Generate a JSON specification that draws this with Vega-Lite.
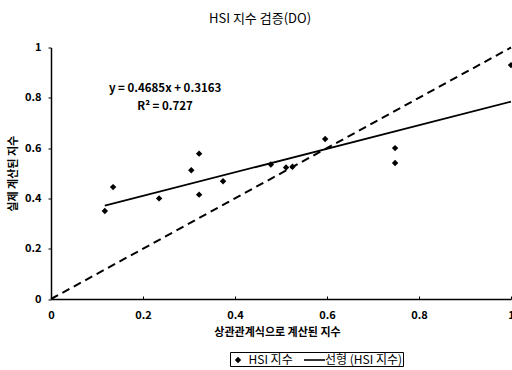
{
  "$schema": "https://vega.github.io/schema/vega-lite/v6.json",
  "autosize": {"type": "none"},
  "width": 460,
  "height": 251.5,
  "padding": {"left": 51, "top": 47.5, "right": 1, "bottom": 71},
  "background": "white",
  "config": {"view": {"stroke": null}, "font": "Noto Sans CJK KR"},
  "title": {"text": "HSI 지수 검증(DO)", "fontSize": 13, "fontWeight": "normal", "anchor": "middle", "dx": -21, "offset": 16, "color": "black", "font": "Noto Sans CJK KR"},
  "datasets": {
    "points": [
      {"x": 0.117, "y": 0.35, "series": "HSI 지수"},
      {"x": 0.135, "y": 0.445, "series": "HSI 지수"},
      {"x": 0.235, "y": 0.40, "series": "HSI 지수"},
      {"x": 0.305, "y": 0.512, "series": "HSI 지수"},
      {"x": 0.322, "y": 0.578, "series": "HSI 지수"},
      {"x": 0.322, "y": 0.415, "series": "HSI 지수"},
      {"x": 0.374, "y": 0.468, "series": "HSI 지수"},
      {"x": 0.478, "y": 0.535, "series": "HSI 지수"},
      {"x": 0.511, "y": 0.523, "series": "HSI 지수"},
      {"x": 0.525, "y": 0.526, "series": "HSI 지수"},
      {"x": 0.596, "y": 0.636, "series": "HSI 지수"},
      {"x": 0.748, "y": 0.60, "series": "HSI 지수"},
      {"x": 0.748, "y": 0.541, "series": "HSI 지수"},
      {"x": 1.0, "y": 0.93, "series": "HSI 지수"}
    ],
    "fit": [
      {"x": 0.117, "y": 0.371},
      {"x": 1.0, "y": 0.785}
    ],
    "diag": [
      {"x": 0, "y": 0},
      {"x": 1, "y": 1}
    ],
    "notes": [
      {"x": 0.248, "y": 0.835, "label": "y = 0.4685x + 0.3163"},
      {"x": 0.248, "y": 0.765, "label": "R² = 0.727"}
    ]
  },
  "layer": [
    {
      "data": {"name": "diag"},
      "mark": {"type": "line", "color": "black", "strokeWidth": 2, "strokeDash": [8, 5]},
      "encoding": {
        "x": {"field": "x", "type": "quantitative", "scale": {"domain": [0, 1], "nice": false},
          "axis": {"title": "상관관계식으로 계산된 지수", "values": [0, 0.2, 0.4, 0.6, 0.8, 1], "format": "~g", "grid": false,
            "domainColor": "black", "domainWidth": 1.5, "tickColor": "black", "tickSize": -3, "labelPadding": 13,
            "labelFont": "Noto Sans CJK KR", "labelFontWeight": "bold", "labelFontSize": 11, "labelColor": "black",
            "labelBound": false, "labelFlush": false, "labelOverlap": false,
            "titleFont": "Noto Sans CJK KR", "titleFontWeight": "bold", "titleFontSize": 11, "titleColor": "black", "titlePadding": 6, "titleX": 226}},
        "y": {"field": "y", "type": "quantitative", "scale": {"domain": [0, 1], "nice": false},
          "axis": {"title": "실제 계산된 지수", "values": [0, 0.2, 0.4, 0.6, 0.8, 1], "format": "~g", "grid": false,
            "domainColor": "black", "domainWidth": 1.5, "tickColor": "black", "tickSize": 3, "labelPadding": 7,
            "labelFont": "Noto Sans CJK KR", "labelFontWeight": "bold", "labelFontSize": 11, "labelColor": "black",
            "labelBound": false, "labelFlush": false, "labelOverlap": false,
            "titleFont": "Noto Sans CJK KR", "titleFontWeight": "bold", "titleFontSize": 11, "titleColor": "#000000", "titlePadding": 6}}
      }
    },
    {
      "data": {"name": "fit"},
      "mark": {"type": "line", "color": "black", "strokeWidth": 1.8},
      "encoding": {
        "x": {"field": "x", "type": "quantitative"},
        "y": {"field": "y", "type": "quantitative"}
      }
    },
    {
      "data": {"name": "points"},
      "mark": {"type": "point", "filled": true, "color": "black", "opacity": 1, "size": 256},
      "encoding": {
        "x": {"field": "x", "type": "quantitative"},
        "y": {"field": "y", "type": "quantitative"},
        "shape": {"field": "series", "type": "nominal",
          "scale": {"domain": ["HSI 지수", "선형 (HSI 지수)"], "range": ["M0,-0.4L0.4,0L0,0.4L-0.4,0Z", "M-1.31,-0.1H1.31V0.1H-1.31Z"]},
          "legend": {"title": null, "orient": "none", "legendX": 179, "legendY": 304.5, "direction": "horizontal",
            "strokeColor": "black", "fillColor": "white", "padding": 0, "columnPadding": 10.5, "labelOffset": 2.5,
            "symbolSize": 256,
            "labelFont": "Noto Sans CJK KR", "labelFontSize": 12, "labelColor": "black",
            "symbolFillColor": "black", "symbolStrokeColor": "black", "symbolStrokeWidth": 0, "symbolOpacity": 1,
            "encode": {"symbols": {"update": {"fill": {"value": "black"}, "opacity": {"value": 1}}}}}}
      }
    },
    {
      "data": {"name": "notes"},
      "mark": {"type": "text", "font": "Noto Sans CJK KR", "fontWeight": "bold", "fontSize": 11.5, "color": "black"},
      "encoding": {
        "x": {"field": "x", "type": "quantitative"},
        "y": {"field": "y", "type": "quantitative"},
        "text": {"field": "label"}
      }
    }
  ]
}
